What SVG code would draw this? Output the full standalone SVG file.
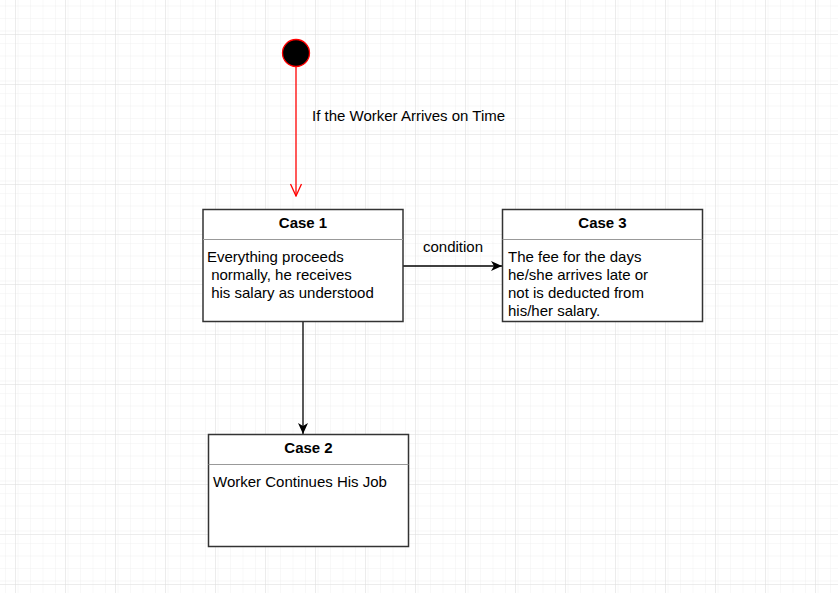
<svg xmlns="http://www.w3.org/2000/svg" width="838" height="593" viewBox="0 0 838 593">
<style>
text{font-family:"Liberation Sans",Arial,sans-serif;font-size:15px;fill:#000}
.hd{font-weight:bold;text-anchor:middle}
.box{fill:#fff;stroke:#333;stroke-width:1.5}
.sep{stroke:#999;stroke-width:1}
.edge{fill:none;stroke:#000;stroke-width:1.3}
</style>
<defs>
<pattern id="minor" x="15" y="34" width="12.5" height="12.5" patternUnits="userSpaceOnUse">
<path d="M0 0H12.5M0 0V12.5" fill="none" stroke="#f0f0f0" stroke-width="1"/>
</pattern>
<pattern id="major" x="15" y="34" width="50" height="50" patternUnits="userSpaceOnUse">
<rect width="50" height="50" fill="url(#minor)"/>
<path d="M0 0H50M0 0V50" fill="none" stroke="#dadada" stroke-width="1"/>
</pattern>
<marker id="arr" markerWidth="12" markerHeight="10" refX="11" refY="5" orient="auto" markerUnits="userSpaceOnUse">
<path d="M0 0L11 5L0 10L3 5Z" fill="#000"/>
</marker>
<marker id="open" markerWidth="14" markerHeight="14" refX="13" refY="7" orient="auto" markerUnits="userSpaceOnUse">
<path d="M1 1.5L13 7L1 12.5" fill="none" stroke="#f00" stroke-width="1.3"/>
</marker>
</defs>
<rect width="838" height="593" fill="#fff"/>
<rect width="838" height="593" fill="url(#major)"/>
<g id="connectors">
<line x1="296" y1="67" x2="296" y2="196" stroke="#f00" stroke-width="1.3" marker-end="url(#open)"/>
<text x="312" y="121">If the Worker Arrives on Time</text>
<line class="edge" x1="403" y1="266" x2="502" y2="266" marker-end="url(#arr)"/>
<text x="453" y="252" text-anchor="middle">condition</text>
<line class="edge" x1="303" y1="321.5" x2="303" y2="434" marker-end="url(#arr)"/>
</g>
<g id="start">
<circle cx="296" cy="53" r="13.5" fill="#000" stroke="#f00" stroke-width="1.3"/>
</g>
<g id="case1">
<rect class="box" x="203" y="209.5" width="200" height="112"/>
<line class="sep" x1="203" y1="239.5" x2="403" y2="239.5"/>
<text class="hd" x="303" y="228">Case 1</text>
<text x="207" y="262" xml:space="preserve">Everything proceeds</text>
<text x="207" y="280" xml:space="preserve"> normally, he receives</text>
<text x="207" y="298" xml:space="preserve"> his salary as understood</text>
</g>
<g id="case3">
<rect class="box" x="502.5" y="209.5" width="200" height="112"/>
<line class="sep" x1="502.5" y1="239.5" x2="702.5" y2="239.5"/>
<text class="hd" x="602.5" y="228">Case 3</text>
<text x="508" y="262">The fee for the days</text>
<text x="508" y="280">he/she arrives late or</text>
<text x="508" y="298">not is deducted from</text>
<text x="508" y="316">his/her salary.</text>
</g>
<g id="case2">
<rect class="box" x="208.5" y="434.5" width="200" height="112"/>
<line class="sep" x1="208.5" y1="464.5" x2="408.5" y2="464.5"/>
<text class="hd" x="308.5" y="453">Case 2</text>
<text x="213" y="487">Worker Continues His Job</text>
</g>
</svg>
